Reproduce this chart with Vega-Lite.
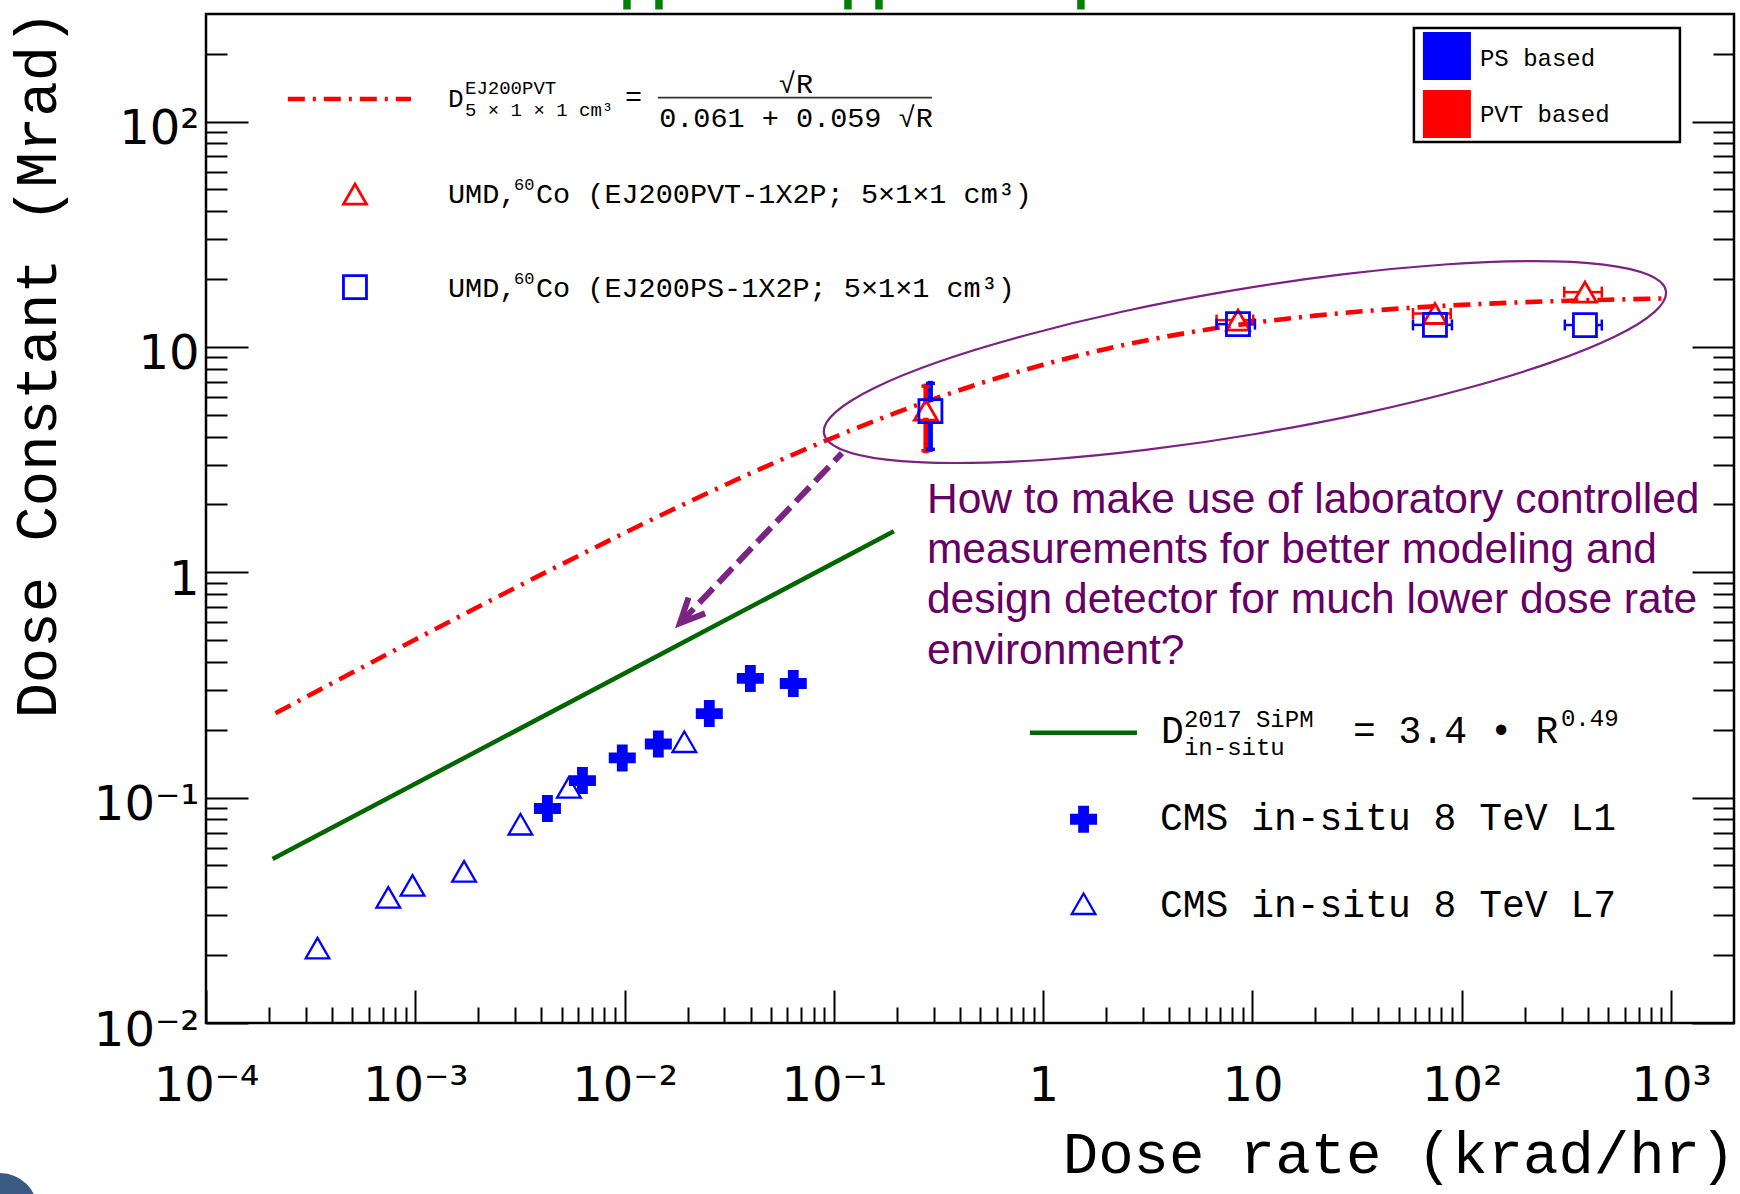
{
  "$schema": "https://vega.github.io/schema/vega-lite/v6.json",
  "width": 1528,
  "height": 1009,
  "autosize": {"type": "none"},
  "padding": {"left": 206, "top": 14, "right": 6, "bottom": 171},
  "background": "white",
  "config": {
    "view": {"stroke": "black", "strokeWidth": 2.5},
    "axis": {"domain": false, "grid": false, "tickColor": "black", "tickWidth": 2, "labelFont": "DejaVu Sans", "labelFontSize": 48, "labelColor": "black", "titleFont": "Liberation Mono", "titleFontSize": 59, "titleFontWeight": "normal", "titleColor": "black"}
  },
  "datasets": {
    "pvt_fit": [
      {"x": 0.000215, "y": 0.237}, {"x": 0.0005, "y": 0.3588}, {"x": 0.001, "y": 0.503}, {"x": 0.002, "y": 0.7027},
      {"x": 0.005, "y": 1.085}, {"x": 0.01, "y": 1.4948}, {"x": 0.02, "y": 2.0394}, {"x": 0.05, "y": 3.0139},
      {"x": 0.1, "y": 3.9699}, {"x": 0.2, "y": 5.1177}, {"x": 0.5, "y": 6.8839}, {"x": 1, "y": 8.3333},
      {"x": 2, "y": 9.7911}, {"x": 5, "y": 11.59}, {"x": 10, "y": 12.773}, {"x": 20, "y": 13.767},
      {"x": 50, "y": 14.787}, {"x": 100, "y": 15.361}, {"x": 200, "y": 15.794}, {"x": 500, "y": 16.2}, {"x": 900, "y": 16.384}
    ],
    "insitu_fit": [{"x": 0.000208, "y": 0.0534}, {"x": 0.1935, "y": 1.52}],
    "ellipse": [
      {"i": 0, "x": 945.4, "y": 17.73}, {"i": 1, "x": 835.0, "y": 14.31}, {"i": 2, "x": 543.0, "y": 11.15},
      {"i": 3, "x": 267.6, "y": 8.536}, {"i": 4, "x": 104.7, "y": 6.537}, {"i": 5, "x": 34.75, "y": 5.096},
      {"i": 6, "x": 10.52, "y": 4.119}, {"i": 7, "x": 3.157, "y": 3.498}, {"i": 8, "x": 1.02, "y": 3.157},
      {"i": 9, "x": 0.3827, "y": 3.053}, {"i": 10, "x": 0.1784, "y": 3.161}, {"i": 11, "x": 0.1087, "y": 3.508},
      {"i": 12, "x": 0.08969, "y": 4.136}, {"i": 13, "x": 0.1016, "y": 5.121}, {"i": 14, "x": 0.1561, "y": 6.571},
      {"i": 15, "x": 0.3168, "y": 8.589}, {"i": 16, "x": 0.8096, "y": 11.21}, {"i": 17, "x": 2.44, "y": 14.39},
      {"i": 18, "x": 8.061, "y": 17.8}, {"i": 19, "x": 26.85, "y": 20.96}, {"i": 20, "x": 83.1, "y": 23.21},
      {"i": 21, "x": 221.5, "y": 24.01}, {"i": 22, "x": 475.9, "y": 23.19}, {"i": 23, "x": 779.8, "y": 20.89}
    ],
    "arrow": [{"x": 0.1093, "y": 3.378}, {"x": 0.01839, "y": 0.5943}],
    "arrowhead": [{"x": 0.01839, "y": 0.5943}],
    "umd": [
      {"x": 0.2754, "y": 5.24, "material": "PVT based"}, {"x": 8.53, "y": 13.15, "material": "PVT based"},
      {"x": 74.5, "y": 14.06, "material": "PVT based"}, {"x": 388, "y": 17.5, "material": "PVT based"},
      {"x": 0.2893, "y": 5.19, "material": "PS based"}, {"x": 8.53, "y": 12.62, "material": "PS based"},
      {"x": 74.5, "y": 12.52, "material": "PS based"}, {"x": 388, "y": 12.5, "material": "PS based"}
    ],
    "umd_xbar": [
      {"x": 6.74, "x2": 7.99, "y": 13.15, "material": "PVT based"}, {"x": 9.11, "x2": 10.09, "y": 13.15, "material": "PVT based"},
      {"x": 58.5, "x2": 69.8, "y": 14.06, "material": "PVT based"}, {"x": 79.6, "x2": 88.6, "y": 14.06, "material": "PVT based"},
      {"x": 309, "x2": 363, "y": 17.5, "material": "PVT based"}, {"x": 414, "x2": 467, "y": 17.5, "material": "PVT based"},
      {"x": 6.74, "x2": 7.52, "y": 12.62, "material": "PS based"}, {"x": 9.68, "x2": 10.28, "y": 12.62, "material": "PS based"},
      {"x": 58.5, "x2": 65.6, "y": 12.52, "material": "PS based"}, {"x": 84.6, "x2": 89.8, "y": 12.52, "material": "PS based"},
      {"x": 311, "x2": 341.9, "y": 12.5, "material": "PS based"}, {"x": 440.4, "x2": 467, "y": 12.5, "material": "PS based"}
    ],
    "umd_xcap": [
      {"x": 6.74, "y": 13.15, "material": "PVT based"}, {"x": 10.09, "y": 13.15, "material": "PVT based"},
      {"x": 58.5, "y": 14.06, "material": "PVT based"}, {"x": 88.6, "y": 14.06, "material": "PVT based"},
      {"x": 309, "y": 17.5, "material": "PVT based"}, {"x": 467, "y": 17.5, "material": "PVT based"},
      {"x": 6.74, "y": 12.62, "material": "PS based"}, {"x": 10.28, "y": 12.62, "material": "PS based"},
      {"x": 58.5, "y": 12.52, "material": "PS based"}, {"x": 89.8, "y": 12.52, "material": "PS based"},
      {"x": 311, "y": 12.5, "material": "PS based"}, {"x": 467, "y": 12.5, "material": "PS based"}
    ],
    "umd_ybar": [
      {"x": 0.2754, "y": 5.81, "y2": 6.7, "material": "PVT based"}, {"x": 0.2754, "y": 3.46, "y2": 4.73, "material": "PVT based"},
      {"x": 0.2893, "y": 5.84, "y2": 6.89, "material": "PS based"}, {"x": 0.2893, "y": 3.51, "y2": 4.61, "material": "PS based"}
    ],
    "umd_ycap": [
      {"x": 0.2754, "y": 6.7, "material": "PVT based"}, {"x": 0.2754, "y": 3.46, "material": "PVT based"},
      {"x": 0.2893, "y": 6.89, "material": "PS based"}, {"x": 0.2893, "y": 3.51, "material": "PS based"}
    ],
    "cms_l1": [
      {"x": 0.00428, "y": 0.0895}, {"x": 0.00629, "y": 0.119}, {"x": 0.00975, "y": 0.15}, {"x": 0.0145, "y": 0.173},
      {"x": 0.0254, "y": 0.236}, {"x": 0.0399, "y": 0.338}, {"x": 0.064, "y": 0.321}
    ],
    "cms_l7": [
      {"x": 0.000341, "y": 0.0215}, {"x": 0.000743, "y": 0.0361}, {"x": 0.00097, "y": 0.0408}, {"x": 0.00171, "y": 0.0471},
      {"x": 0.00318, "y": 0.0762}, {"x": 0.00542, "y": 0.111}, {"x": 0.0193, "y": 0.177}
    ],
    "legend_umd": [{"x": 0.000515, "y": 47.66, "material": "PVT based"}, {"x": 0.000515, "y": 18.43, "material": "PS based"}],
    "legend_red_line": [{"x": 0.000246, "y": 125.9}, {"x": 0.000954, "y": 125.9}],
    "legend_green_line": [{"x": 0.865, "y": 0.1941}, {"x": 2.807, "y": 0.1941}],
    "legend_cms_l1": [{"x": 1.56, "y": 0.08017}],
    "legend_cms_l7": [{"x": 1.56, "y": 0.03381}],
    "ps_pvt_box": [{"x": 59.1, "x2": 1103, "y": 81.1, "y2": 260}],
    "ps_pvt_keys": [{"x": 84.99, "y": 195.3, "material": "PS based"}, {"x": 84.99, "y": 108.0, "material": "PVT based"}],
    "ps_pvt_labels": [{"x": 122.2, "y": 176.9, "text": "PS based"}, {"x": 122.2, "y": 99.8, "text": "PVT based"}],
    "text_mono_left": [
      {"x": 0.001433, "y": 43.47, "text": "UMD,"},
      {"x": 0.003773, "y": 43.47, "text": "Co (EJ200PVT-1X2P; 5×1×1 cm³)"},
      {"x": 0.001433, "y": 16.63, "text": "UMD,"},
      {"x": 0.003773, "y": 16.63, "text": "Co (EJ200PS-1X2P; 5×1×1 cm³)"},
      {"x": 0.01004, "y": 117.2, "text": "="}
    ],
    "text_mono_center": [{"x": 0.06591, "y": 133.8, "text": "√R"}, {"x": 0.06591, "y": 94.82, "text": "0.061 + 0.059 √R"}],
    "text_small_left": [
      {"x": 0.001728, "y": 132.5, "text": "EJ200PVT"},
      {"x": 0.001728, "y": 105.8, "text": "5 × 1 × 1 cm³"}
    ],
    "text_sup60": [
      {"x": 0.002962, "y": 49.66, "text": "60"},
      {"x": 0.002962, "y": 19.0, "text": "60"}
    ],
    "text_D_small": [{"x": 0.001433, "y": 116.0, "text": "D"}],
    "text_mono_big": [
      {"x": 3.655, "y": 0.1744, "text": "D"},
      {"x": 30.22, "y": 0.1744, "text": "= 3.4 • R"},
      {"x": 3.614, "y": 0.07166, "text": "CMS in-situ 8 TeV L1"},
      {"x": 3.614, "y": 0.02945, "text": "CMS in-situ 8 TeV L7"}
    ],
    "text_mono_mid": [
      {"x": 4.708, "y": 0.2054, "text": "2017 SiPM"},
      {"x": 4.708, "y": 0.1547, "text": "in-situ"},
      {"x": 298.0, "y": 0.2076, "text": "0.49"}
    ],
    "text_question": [
      {"x": 0.2785, "y": 1.829, "text": "How to make use of laboratory controlled"},
      {"x": 0.2785, "y": 1.098, "text": "measurements for better modeling and"},
      {"x": 0.2785, "y": 0.6585, "text": "design detector for much lower dose rate"},
      {"x": 0.2785, "y": 0.3909, "text": "environment?"}
    ],
    "fraction_bar": [{"x": 0.01443, "x2": 0.2942, "y": 127.6}],
    "green_marks": [
      {"x": 0.01027, "y": 314.2, "y2": 400}, {"x": 0.0146, "y": 314.2, "y2": 400}, {"x": 0.1168, "y": 314.2, "y2": 400},
      {"x": 0.1643, "y": 314.2, "y2": 400}, {"x": 1.5155, "y": 314.2, "y2": 400}
    ],
    "corner_disc": [{"x": 0.0000104, "y": 0.001475}]
  },
  "encoding": {
    "x": {"field": "x", "type": "quantitative", "scale": {"type": "log", "domain": [0.0001, 2000], "nice": false}, "axis": null},
    "y": {"field": "y", "type": "quantitative", "scale": {"type": "log", "domain": [0.01, 300], "nice": false}, "axis": null}
  },
  "resolve": {"axis": {"x": "independent", "y": "independent"}},
  "layer": [
    {"data": {"name": "corner_disc"}, "mark": {"type": "point", "shape": "circle", "filled": true, "size": 5542, "color": "#3b5a83", "opacity": 1}},
    {"data": {"name": "green_marks"}, "mark": {"type": "rule", "color": "#008000", "strokeWidth": 7.5}, "encoding": {"y2": {"field": "y2"}}},
    {"data": {"name": "ps_pvt_box"}, "mark": {"type": "rect", "fill": "white", "stroke": "black", "strokeWidth": 2.5}, "encoding": {"x2": {"field": "x2"}, "y2": {"field": "y2"}}},
    {
      "data": {"name": "pvt_fit"},
      "mark": {"type": "line", "color": "#ff0000", "strokeWidth": 4.6, "strokeDash": [17, 8, 3, 8], "interpolate": "monotone"},
      "encoding": {
        "x": {"field": "x", "type": "quantitative", "scale": {"type": "log", "domain": [0.0001, 2000], "nice": false},
          "axis": {"orient": "bottom", "values": [0.0001, 0.001, 0.01, 0.1, 1, 10, 100, 1000], "ticks": false, "labels": true,
            "labelExpr": "datum.value < 0.0005 ? '10⁻⁴' : datum.value < 0.005 ? '10⁻³' : datum.value < 0.05 ? '10⁻²' : datum.value < 0.5 ? '10⁻¹' : datum.value < 5 ? '1' : datum.value < 50 ? '10' : datum.value < 500 ? '10²' : '10³'",
            "labelPadding": 39, "labelBaseline": "top", "labelAlign": "center", "labelFlush": false, "labelOverlap": false, "labelBound": false,
            "title": "Dose rate (krad/hr)", "titleX": 1529, "titleY": 149, "titleAlign": "right", "titleAnchor": "end", "titleBaseline": "alphabetic"}},
        "y": {"field": "y", "type": "quantitative", "scale": {"type": "log", "domain": [0.01, 300], "nice": false},
          "axis": {"orient": "left", "values": [0.01, 0.1, 1, 10, 100], "ticks": false, "labels": true,
            "labelExpr": "datum.value < 0.05 ? '10⁻²' : datum.value < 0.5 ? '10⁻¹' : datum.value < 5 ? '1' : datum.value < 50 ? '10' : '10²'",
            "labelPadding": 7, "labelBaseline": "middle", "labelAlign": "right", "labelOffset": 8, "labelFlush": false, "labelOverlap": false, "labelBound": false,
            "title": "Dose Constant (Mrad)", "titleX": -151, "titleY": 350, "titleAngle": 270, "titleAlign": "center", "titleBaseline": "alphabetic"}}
      }
    },
    {
      "data": {"name": "insitu_fit"},
      "mark": {"type": "line", "color": "#006600", "strokeWidth": 4.5},
      "encoding": {
        "x": {"field": "x", "type": "quantitative", "scale": {"type": "log", "domain": [0.0001, 2000], "nice": false},
          "axis": {"orient": "bottom", "values": [0.0001, 0.001, 0.01, 0.1, 1, 10, 100, 1000], "ticks": true, "tickSize": -33, "labels": false, "title": null}},
        "y": {"field": "y", "type": "quantitative", "scale": {"type": "log", "domain": [0.01, 300], "nice": false},
          "axis": {"orient": "left", "values": [0.01, 0.1, 1, 10, 100], "ticks": true, "tickSize": -42, "labels": false, "title": null}}
      }
    },
    {
      "data": {"name": "ellipse"},
      "mark": {"type": "line", "color": "#7b2382", "strokeWidth": 2.2, "interpolate": "cardinal-closed"},
      "encoding": {
        "order": {"field": "i", "type": "quantitative"},
        "x": {"field": "x", "type": "quantitative", "scale": {"type": "log", "domain": [0.0001, 2000], "nice": false},
          "axis": {"orient": "bottom", "values": [0.0002,0.0003,0.0004,0.0005,0.0006,0.0007,0.0008,0.0009,0.002,0.003,0.004,0.005,0.006,0.007,0.008,0.009,0.02,0.03,0.04,0.05,0.06,0.07,0.08,0.09,0.2,0.3,0.4,0.5,0.6,0.7,0.8,0.9,2,3,4,5,6,7,8,9,20,30,40,50,60,70,80,90,200,300,400,500,600,700,800,900], "ticks": true, "tickSize": -16, "labels": false, "title": null}},
        "y": {"field": "y", "type": "quantitative", "scale": {"type": "log", "domain": [0.01, 300], "nice": false},
          "axis": {"orient": "left", "values": [0.02,0.03,0.04,0.05,0.06,0.07,0.08,0.09,0.2,0.3,0.4,0.5,0.6,0.7,0.8,0.9,2,3,4,5,6,7,8,9,20,30,40,50,60,70,80,90,200], "ticks": true, "tickSize": -21, "labels": false, "title": null}}
      }
    },
    {
      "data": {"name": "arrow"},
      "mark": {"type": "line", "color": "#7b2382", "strokeWidth": 6, "strokeDash": [20, 8]},
      "encoding": {
        "y": {"field": "y", "type": "quantitative", "scale": {"type": "log", "domain": [0.01, 300], "nice": false},
          "axis": {"orient": "right", "values": [0.01, 0.1, 1, 10, 100], "ticks": true, "tickSize": -42, "labels": false, "title": null}}
      }
    },
    {
      "data": {"name": "arrowhead"},
      "mark": {"type": "point", "shape": "M -0.423 -0.906 L 0 0 L 0.423 -0.906", "size": 2916, "angle": 43.6, "filled": false, "color": "#7b2382", "strokeWidth": 6, "opacity": 1, "strokeJoin": "miter"},
      "encoding": {
        "y": {"field": "y", "type": "quantitative", "scale": {"type": "log", "domain": [0.01, 300], "nice": false},
          "axis": {"orient": "right", "values": [0.02,0.03,0.04,0.05,0.06,0.07,0.08,0.09,0.2,0.3,0.4,0.5,0.6,0.7,0.8,0.9,2,3,4,5,6,7,8,9,20,30,40,50,60,70,80,90,200], "ticks": true, "tickSize": -21, "labels": false, "title": null}}
      }
    },
    {
      "data": {"name": "umd_ybar"},
      "mark": {"type": "rule", "strokeWidth": 5, "strokeCap": "square"},
      "encoding": {"y2": {"field": "y2"}, "color": {"field": "material", "type": "nominal", "scale": {"domain": ["PS based", "PVT based"], "range": ["#0000ff", "#ff0000"]}, "legend": null}}
    },
    {
      "data": {"name": "umd_ycap"},
      "mark": {"type": "tick", "orient": "horizontal", "size": 9, "thickness": 3.5, "opacity": 1},
      "encoding": {"color": {"field": "material", "type": "nominal", "scale": {"domain": ["PS based", "PVT based"], "range": ["#0000ff", "#ff0000"]}, "legend": null}}
    },
    {
      "data": {"name": "umd_xbar"},
      "mark": {"type": "rule", "strokeWidth": 2.5},
      "encoding": {"x2": {"field": "x2"}, "color": {"field": "material", "type": "nominal", "scale": {"domain": ["PS based", "PVT based"], "range": ["#0000ff", "#ff0000"]}, "legend": null}}
    },
    {
      "data": {"name": "umd_xcap"},
      "mark": {"type": "tick", "orient": "vertical", "size": 11, "thickness": 2.5, "opacity": 1},
      "encoding": {"color": {"field": "material", "type": "nominal", "scale": {"domain": ["PS based", "PVT based"], "range": ["#0000ff", "#ff0000"]}, "legend": null}}
    },
    {
      "data": {"name": "umd"},
      "mark": {"type": "point", "filled": false, "size": 530, "strokeWidth": 2.8, "opacity": 1},
      "encoding": {
        "color": {"field": "material", "type": "nominal", "scale": {"domain": ["PS based", "PVT based"], "range": ["#0000ff", "#ff0000"]}, "legend": null},
        "shape": {"field": "material", "type": "nominal", "scale": {"domain": ["PS based", "PVT based"], "range": ["square", "triangle-up"]}, "legend": null}
      }
    },
    {"data": {"name": "cms_l7"}, "mark": {"type": "point", "shape": "triangle-up", "filled": false, "size": 560, "strokeWidth": 2.3, "color": "#0000ff", "opacity": 1}},
    {"data": {"name": "cms_l1"}, "mark": {"type": "point", "shape": "cross", "filled": true, "size": 729, "color": "#0000ff", "opacity": 1}},
    {"data": {"name": "legend_red_line"}, "mark": {"type": "line", "color": "#ff0000", "strokeWidth": 4.6, "strokeDash": [17, 8, 3, 8]}, "encoding": {}},
    {"data": {"name": "legend_green_line"}, "mark": {"type": "line", "color": "#006600", "strokeWidth": 4.5}, "encoding": {}},
    {
      "data": {"name": "legend_umd"},
      "mark": {"type": "point", "filled": false, "size": 530, "strokeWidth": 2.8, "opacity": 1},
      "encoding": {
        "color": {"field": "material", "type": "nominal", "scale": {"domain": ["PS based", "PVT based"], "range": ["#0000ff", "#ff0000"]}, "legend": null},
        "shape": {"field": "material", "type": "nominal", "scale": {"domain": ["PS based", "PVT based"], "range": ["square", "triangle-up"]}, "legend": null}
      }
    },
    {"data": {"name": "legend_cms_l1"}, "mark": {"type": "point", "shape": "cross", "filled": true, "size": 729, "color": "#0000ff", "opacity": 1}},
    {"data": {"name": "legend_cms_l7"}, "mark": {"type": "point", "shape": "triangle-up", "filled": false, "size": 560, "strokeWidth": 2.3, "color": "#0000ff", "opacity": 1}},
    {
      "data": {"name": "ps_pvt_keys"},
      "mark": {"type": "point", "shape": "square", "filled": true, "size": 2304, "opacity": 1},
      "encoding": {"color": {"field": "material", "type": "nominal", "scale": {"domain": ["PS based", "PVT based"], "range": ["#0000ff", "#ff0000"]}, "legend": null}}
    },
    {"data": {"name": "ps_pvt_labels"}, "mark": {"type": "text", "font": "Liberation Mono", "fontSize": 24, "align": "left", "baseline": "alphabetic", "color": "black"}, "encoding": {"text": {"field": "text", "type": "nominal"}}},
    {"data": {"name": "fraction_bar"}, "mark": {"type": "rule", "color": "#333333", "strokeWidth": 1.6}, "encoding": {"x2": {"field": "x2"}}},
    {"data": {"name": "text_mono_left"}, "mark": {"type": "text", "font": "Liberation Mono", "fontSize": 28.5, "align": "left", "baseline": "alphabetic", "color": "black"}, "encoding": {"text": {"field": "text", "type": "nominal"}}},
    {"data": {"name": "text_mono_center"}, "mark": {"type": "text", "font": "Liberation Mono", "fontSize": 28.5, "align": "center", "baseline": "alphabetic", "color": "black"}, "encoding": {"text": {"field": "text", "type": "nominal"}}},
    {"data": {"name": "text_small_left"}, "mark": {"type": "text", "font": "Liberation Mono", "fontSize": 19, "align": "left", "baseline": "alphabetic", "color": "black"}, "encoding": {"text": {"field": "text", "type": "nominal"}}},
    {"data": {"name": "text_sup60"}, "mark": {"type": "text", "font": "Liberation Mono", "fontSize": 17, "align": "left", "baseline": "alphabetic", "color": "black"}, "encoding": {"text": {"field": "text", "type": "nominal"}}},
    {"data": {"name": "text_D_small"}, "mark": {"type": "text", "font": "Liberation Mono", "fontSize": 26, "align": "left", "baseline": "alphabetic", "color": "black"}, "encoding": {"text": {"field": "text", "type": "nominal"}}},
    {"data": {"name": "text_mono_big"}, "mark": {"type": "text", "font": "Liberation Mono", "fontSize": 38, "align": "left", "baseline": "alphabetic", "color": "black"}, "encoding": {"text": {"field": "text", "type": "nominal"}}},
    {"data": {"name": "text_mono_mid"}, "mark": {"type": "text", "font": "Liberation Mono", "fontSize": 24, "align": "left", "baseline": "alphabetic", "color": "black"}, "encoding": {"text": {"field": "text", "type": "nominal"}}},
    {"data": {"name": "text_question"}, "mark": {"type": "text", "font": "Liberation Sans", "fontSize": 42.5, "align": "left", "baseline": "alphabetic", "color": "#660066"}, "encoding": {"text": {"field": "text", "type": "nominal"}}}
  ]
}
